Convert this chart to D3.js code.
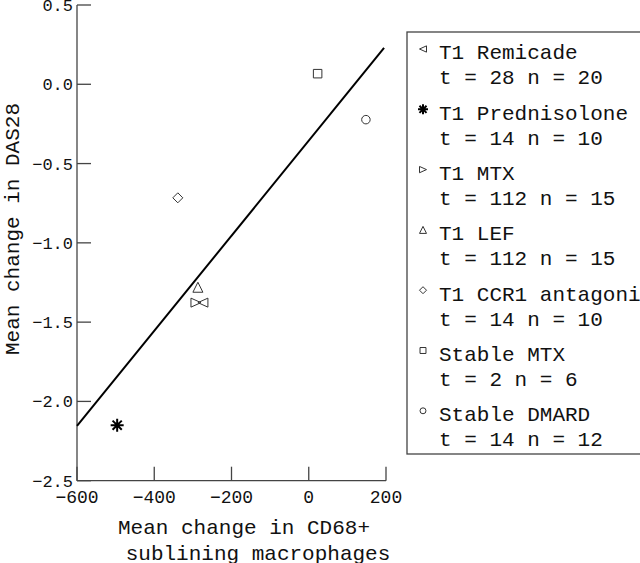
<!DOCTYPE html>
<html>
<head>
<meta charset="utf-8">
<script src="https://cdn.jsdelivr.net/npm/d3@7"></script>
<style>
  html, body { margin: 0; padding: 0; background: #fff; }
  svg { display: block; }
  text { font-family: "Liberation Mono", "DejaVu Sans Mono", monospace; fill: #111; }
</style>
</head>
<body>
<div id="chart"></div>
<script>
// groups, in legend order
var groups = ["T1 Remicade", "T1 Prednisolone", "T1 MTX", "T1 LEF", "T1 CCR1 antagonist", "Stable MTX", "Stable DMARD"]
var groupInfo = ["t = 28 n = 20", "t = 14 n = 10", "t = 112 n = 15", "t = 112 n = 15", "t = 14 n = 10", "t = 2 n = 6", "t = 14 n = 12"]
var symbols = ["triLeft", "asterisk", "triRight", "triUp", "diamond", "square", "circle"]
// mean change in CD68+ sublining macrophages
var xValues = [-274, -496, -292, -287, -339, 23, 148]
// mean change in DAS28
var yValues = [-1.377, -2.15, -1.377, -1.28, -0.716, 0.067, -0.223]

var xTicks = [-600, -400, -200, 0, 200]
var yTicks = [0.5, 0.0, -0.5, -1.0, -1.5, -2.0, -2.5]

// regression line
var fitSlope = 0.0030
var fitIntercept = -0.355
var fitRange = [-600, 195]

var width = 640,
    height = 563

var svg = d3.select('#chart').append('svg')
    .attr('width', width)
    .attr('height', height)

var x = d3.scaleLinear().domain([-600, 200]).range([77, 386])
var y = d3.scaleLinear().domain([-2.5, 0.5]).range([480.7, 5])

var axisColor = '#444'
var fmtMinus = function(s) { return s.replace('-', '\u2212') }

// axes lines
svg.append('line')
    .attr('x1', x(-600)).attr('x2', x(-600))
    .attr('y1', y(0.5)).attr('y2', y(-2.5))
    .style('stroke', axisColor).style('stroke-width', 1.3)
svg.append('line')
    .attr('x1', x(-600)).attr('x2', x(200))
    .attr('y1', y(-2.5)).attr('y2', y(-2.5))
    .style('stroke', axisColor).style('stroke-width', 1.3)

// y ticks (pointing inward)
svg.selectAll('.ytick').data(yTicks).enter().append('line')
    .attr('x1', x(-600)).attr('x2', x(-600) + 14)
    .attr('y1', function(d) { return y(d) }).attr('y2', function(d) { return y(d) })
    .style('stroke', axisColor).style('stroke-width', 1.3)
svg.selectAll('.ylab').data(yTicks).enter().append('text')
    .attr('x', 73)
    .attr('y', function(d) { return y(d) })
    .attr('dy', '0.35em')
    .attr('text-anchor', 'end')
    .style('font-size', '17px')
    .text(function(d) { return fmtMinus(d3.format('.1f')(d)) })

// x ticks
svg.selectAll('.xtick').data(xTicks).enter().append('line')
    .attr('x1', function(d) { return x(d) }).attr('x2', function(d) { return x(d) })
    .attr('y1', y(-2.5)).attr('y2', y(-2.5) - 14)
    .style('stroke', axisColor).style('stroke-width', 1.3)
svg.selectAll('.xlab').data(xTicks).enter().append('text')
    .attr('x', function(d) { return x(d) })
    .attr('y', 503)
    .attr('text-anchor', 'middle')
    .style('font-size', '18px')
    .text(function(d) { return fmtMinus(String(d)) })

// axis titles
svg.append('text')
    .attr('x', 244).attr('y', 534)
    .attr('text-anchor', 'middle')
    .style('font-size', '21px')
    .text('Mean change in CD68+')
svg.append('text')
    .attr('x', 258).attr('y', 560)
    .attr('text-anchor', 'middle')
    .style('font-size', '21px')
    .text('sublining macrophages')
svg.append('text')
    .attr('transform', 'translate(19,229) rotate(-90)')
    .attr('text-anchor', 'middle')
    .style('font-size', '21px')
    .text('Mean change in DAS28')

// regression line
svg.append('line')
    .attr('x1', x(fitRange[0])).attr('y1', y(fitIntercept + fitSlope * fitRange[0]))
    .attr('x2', x(fitRange[1])).attr('y2', y(fitIntercept + fitSlope * fitRange[1]))
    .style('stroke', '#000').style('stroke-width', 2)

function symbolPath(kind, s) {
    // s = half size
    if (kind === 'triLeft') return 'M' + (-s) + ',0L' + s + ',' + (-s * 0.9) + 'L' + s + ',' + (s * 0.9) + 'Z'
    if (kind === 'triRight') return 'M' + s + ',0L' + (-s) + ',' + (-s * 0.9) + 'L' + (-s) + ',' + (s * 0.9) + 'Z'
    if (kind === 'triUp') return 'M0,' + (-s) + 'L' + s + ',' + s + 'L' + (-s) + ',' + s + 'Z'
    if (kind === 'diamond') return 'M0,' + (-s) + 'L' + s + ',0L0,' + s + 'L' + (-s) + ',0Z'
    if (kind === 'square') return 'M' + (-s * 0.85) + ',' + (-s * 0.85) + 'h' + (s * 1.7) + 'v' + (s * 1.7) + 'h' + (-s * 1.7) + 'Z'
    if (kind === 'circle') return 'M' + (-s * 0.85) + ',0a' + (s * 0.85) + ',' + (s * 0.85) + ' 0 1,0 ' + (s * 1.7) + ',0a' + (s * 0.85) + ',' + (s * 0.85) + ' 0 1,0 ' + (-s * 1.7) + ',0Z'
    if (kind === 'asterisk') {
        var p = ''
        for (var i = 0; i < 4; i++) {
            var a = i * Math.PI / 4
            var dx = Math.sin(a) * s, dy = -Math.cos(a) * s
            p += 'M' + (-dx) + ',' + (-dy) + 'L' + dx + ',' + dy
        }
        return p
    }
}

// points
var points = groups.map(function(g, i) {
    return { name: g, sym: symbols[i], x: xValues[i], y: yValues[i] }
})
svg.selectAll('.pt').data(points).enter().append('path')
    .attr('transform', function(d) { return 'translate(' + x(d.x) + ',' + y(d.y) + ')' })
    .attr('d', function(d) { return symbolPath(d.sym, d.sym === 'asterisk' ? 6.5 : 5) })
    .style('fill', 'none')
    .style('stroke', function(d) { return d.sym === 'asterisk' ? '#000' : '#333' })
    .style('stroke-width', function(d) { return d.sym === 'asterisk' ? 2 : 1 })

// legend
var legend = svg.append('g')
legend.append('rect')
    .attr('x', 407).attr('y', 32)
    .attr('width', 260).attr('height', 422)
    .style('fill', 'none').style('stroke', axisColor).style('stroke-width', 1.3)

var entries = legend.selectAll('.entry').data(points).enter().append('g')
    .attr('transform', function(d, i) { return 'translate(0,' + (52 + i * 60.3) + ')' })
entries.append('path')
    .attr('transform', 'translate(423,-3)')
    .attr('d', function(d) { return symbolPath(d.sym, d.sym === 'asterisk' ? 5 : 3.5) })
    .style('fill', 'none')
    .style('stroke', function(d) { return d.sym === 'asterisk' ? '#000' : '#333' })
    .style('stroke-width', function(d) { return d.sym === 'asterisk' ? 2 : 1 })
entries.append('text')
    .attr('x', 439).attr('y', 0).attr('dy', '0.35em')
    .style('font-size', '21px')
    .text(function(d) { return d.name })
entries.append('text')
    .attr('x', 439).attr('y', 25).attr('dy', '0.35em')
    .style('font-size', '21px')
    .text(function(d, i) { return groupInfo[i] })
</script>
</body>
</html>
